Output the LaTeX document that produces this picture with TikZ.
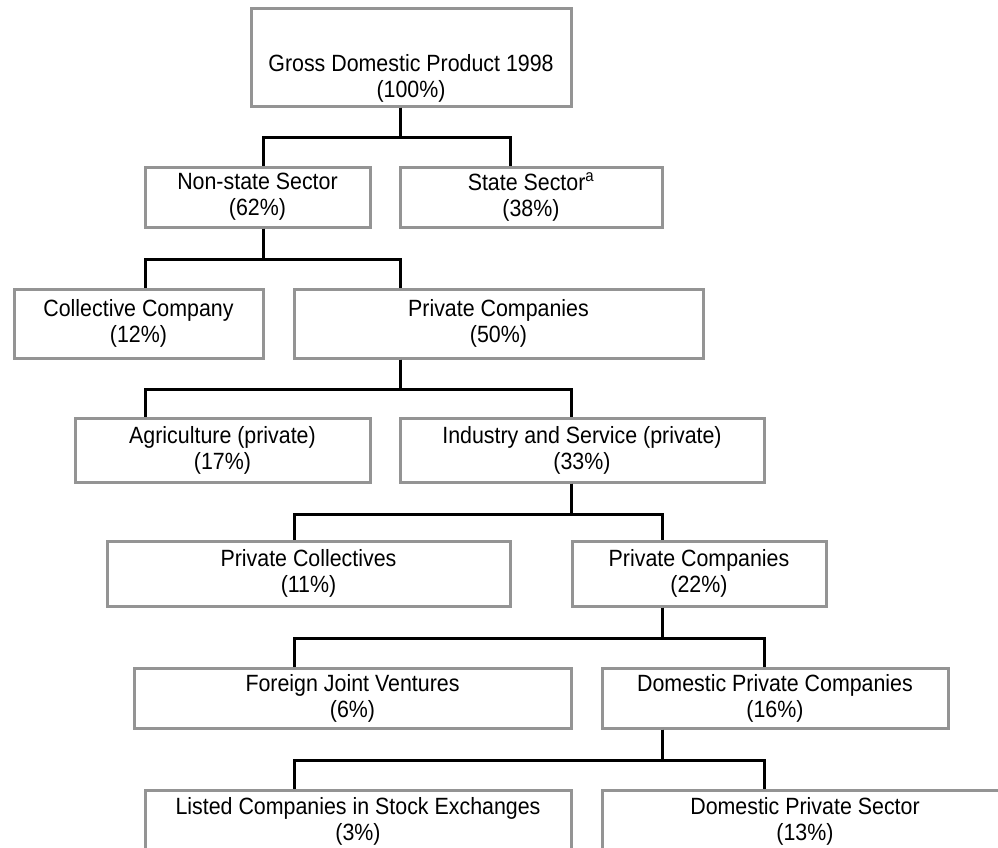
\documentclass[tikz,border=0pt]{standalone}
\usepackage{fontspec}
\setmainfont[FakeStretch=0.91]{Liberation Sans}
\usepackage{tikz}
\usetikzlibrary{positioning, calc}
\tikzset{
    sector/.style={rectangle, draw=black!42, line width=3pt, align=center, inner sep=2pt, font=\fontsize{23.5}{26}\selectfont},
    link/.style={draw=black, line width=3pt},
}

\begin{document}
\begin{tikzpicture}[x=1pt, y=-1pt]
    \path[use as bounding box, clip] (0,0) rectangle (998,847);

    % Top node
    \node[sector, minimum width=320pt, minimum height=98pt] (gdp) at (411,57) {\rule{0pt}{59pt}Gross Domestic Product 1998\\(100\%)};

    % Level 1
    \node[sector, minimum width=225pt, minimum height=60pt] (nonstate) at (257.5,197) {Non-state Sector\\(62\%)};
    \node[sector, minimum width=262pt, minimum height=60pt] (state) at (531,197) {State Sector\textsuperscript{a}\\(38\%)};

    % Level 2
    \node[sector, minimum width=249pt, minimum height=69pt] (collective) at (138.5,323.5) {Collective Company\\(12\%)};
    \node[sector, minimum width=409pt, minimum height=69pt] (privA) at (498.5,323.5) {Private Companies\\(50\%)};

    % Level 3
    \node[sector, minimum width=295pt, minimum height=64pt] (agri) at (222.5,450) {Agriculture (private)\\(17\%)};
    \node[sector, minimum width=364pt, minimum height=64pt] (indserv) at (582,450) {Industry and Service (private)\\(33\%)};

    % Level 4
    \node[sector, minimum width=403pt, minimum height=65pt] (privcoll) at (308.5,573.5) {Private Collectives\\(11\%)};
    \node[sector, minimum width=254pt, minimum height=65pt] (privB) at (699,573.5) {Private Companies\\(22\%)};

    % Level 5
    \node[sector, minimum width=437pt, minimum height=60pt] (foreign) at (352.5,698) {Foreign Joint Ventures\\(6\%)};
    \node[sector, minimum width=346pt, minimum height=60pt] (domcomp) at (775,698) {Domestic Private Companies\\(16\%)};

    % Level 6
    \node[sector, minimum width=426pt, minimum height=62pt] (listed) at (358,821) {Listed Companies in Stock Exchanges\\(3\%)};
    \node[sector, minimum width=406pt, minimum height=62pt] (domsect) at (805,821) {Domestic Private Sector\\(13\%)};

    % Connectors
    \draw[link] ([xshift=-11pt]gdp.south) -- ++(0,30) -| ([xshift=5.5pt]nonstate.north);
    \draw[link] ([xshift=-11pt]gdp.south) -- ++(0,30) -| ([xshift=-21pt]state.north);
    \draw[link] ([xshift=5.5pt]nonstate.south) -- ++(0,31) -| ([xshift=6.5pt]collective.north);
    \draw[link] ([xshift=5.5pt]nonstate.south) -- ++(0,31) -| ([xshift=-98.5pt]privA.north);
    \draw[link] ([xshift=-98.5pt]privA.south) -- ++(0,30) -| ([xshift=-77.5pt]agri.north);
    \draw[link] ([xshift=-98.5pt]privA.south) -- ++(0,30) -| ([xshift=-11pt]indserv.north);
    \draw[link] ([xshift=-11pt]indserv.south) -- ++(0,31) -| ([xshift=-14.5pt]privcoll.north);
    \draw[link] ([xshift=-11pt]indserv.south) -- ++(0,31) -| ([xshift=-37pt]privB.north);
    \draw[link] ([xshift=-37pt]privB.south) -- ++(0,31) -| ([xshift=-58.5pt]foreign.north);
    \draw[link] ([xshift=-37pt]privB.south) -- ++(0,31) -| ([xshift=-11pt]domcomp.north);
    \draw[link] ([xshift=-113pt]domcomp.south) -- ++(0,31) -| ([xshift=-64pt]listed.north);
    \draw[link] ([xshift=-113pt]domcomp.south) -- ++(0,31) -| ([xshift=-41pt]domsect.north);
\end{tikzpicture}
\end{document}
